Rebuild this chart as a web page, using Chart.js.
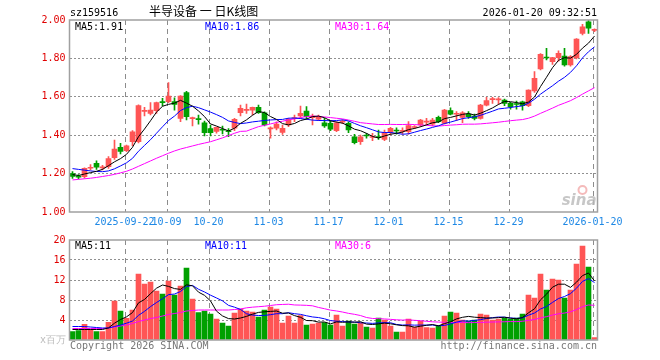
<!DOCTYPE html>
<html>
<head>
<meta charset="utf-8">
<script src="https://cdn.jsdelivr.net/npm/chart.js@4.4.1/dist/chart.umd.min.js"></script>
<style>
body { margin: 0; background: #fff; width: 660px; height: 360px; overflow: hidden; position: relative;
       font-family: "DejaVu Sans Mono", monospace; font-size: 10px; }
canvas { position: absolute; left: 0; }
#priceChart { top: 0; }
#volChart { top: 230px; }
.t { position: absolute; white-space: pre; line-height: 12px; }
</style>
</head>
<body>
<canvas id="priceChart" width="660" height="230"></canvas>
<canvas id="volChart" width="660" height="130"></canvas>

<div class="t" style="left:70px;top:7px;color:#000">sz159516</div>
<div class="t" style="left:149px;top:4px;font-family:'Noto Sans CJK SC',sans-serif;font-size:12px;line-height:14px;color:#000">半导设备 一 日K线图</div>
<div class="t" style="right:63px;top:7px;color:#000">2026-01-20 09:32:51</div>
<div class="t" style="left:75px;top:21px;color:#000">MA5:1.91</div>
<div class="t" style="left:205px;top:21px;color:#0000ff">MA10:1.86</div>
<div class="t" style="left:335px;top:21px;color:#ff00ff">MA30:1.64</div>
<div class="t" style="left:75px;top:240px;color:#000">MA5:11</div>
<div class="t" style="left:205px;top:240px;color:#0000ff">MA10:11</div>
<div class="t" style="left:335px;top:240px;color:#ff00ff">MA30:6</div>
<div class="t" style="left:40px;top:334px;color:#bbb">x百万</div>
<div class="t" style="left:70px;top:340px;color:#777">Copyright 2026 SINA.COM</div>
<div class="t" style="right:63px;top:340px;color:#777">http://finance.sina.com.cn</div>

<script>
// trading days shown on the chart
var dates = [
    '2025-09-09','2025-09-10','2025-09-11','2025-09-12','2025-09-15','2025-09-16','2025-09-17','2025-09-18','2025-09-19',
    '2025-09-22','2025-09-23','2025-09-24','2025-09-25','2025-09-26','2025-09-29','2025-09-30',
    '2025-10-09','2025-10-10','2025-10-13','2025-10-14','2025-10-15','2025-10-16','2025-10-17',
    '2025-10-20','2025-10-21','2025-10-22','2025-10-23','2025-10-24','2025-10-27','2025-10-28','2025-10-29','2025-10-30','2025-10-31',
    '2025-11-03','2025-11-04','2025-11-05','2025-11-06','2025-11-07','2025-11-10','2025-11-11','2025-11-12','2025-11-13','2025-11-14',
    '2025-11-17','2025-11-18','2025-11-19','2025-11-20','2025-11-21','2025-11-24','2025-11-25','2025-11-26','2025-11-27','2025-11-28',
    '2025-12-01','2025-12-02','2025-12-03','2025-12-04','2025-12-05','2025-12-08','2025-12-09','2025-12-10','2025-12-11','2025-12-12',
    '2025-12-15','2025-12-16','2025-12-17','2025-12-18','2025-12-19','2025-12-22','2025-12-23','2025-12-24','2025-12-25','2025-12-26',
    '2025-12-29','2025-12-30','2025-12-31',
    '2026-01-05','2026-01-06','2026-01-07','2026-01-08','2026-01-09','2026-01-12','2026-01-13','2026-01-14','2026-01-15','2026-01-16',
    '2026-01-19','2026-01-20'
];

var tickDates = ['2025-09-22','2025-10-09','2025-10-20','2025-11-03','2025-11-17','2025-12-01','2025-12-15','2025-12-29','2026-01-20'];
var tickText = ['2025-09-22','10-09','10-20','11-03','11-17','12-01','12-15','12-29','2026-01-20'];

var opens = [
    1.200,1.186,1.184,1.228,1.254,1.230,1.236,1.283,1.337,1.320,
    1.366,1.366,1.524,1.514,1.528,1.574,1.575,1.575,1.488,1.622,
    1.486,1.485,1.465,1.434,1.420,1.430,1.422,1.436,1.517,1.529,
    1.531,1.545,1.517,1.433,1.436,1.415,1.453,1.487,1.500,1.526,
    1.491,1.483,1.465,1.462,1.424,1.468,1.462,1.392,1.366,1.400,
    1.388,1.390,1.378,1.415,1.426,1.420,1.418,1.440,1.453,1.468,
    1.458,1.493,1.462,1.528,1.509,1.493,1.510,1.500,1.488,1.557,
    1.585,1.584,1.583,1.566,1.563,1.574,1.554,1.630,1.745,1.806,
    1.783,1.804,1.812,1.766,1.804,1.930,1.991,1.946
];
var highs = [
    1.210,1.195,1.230,1.247,1.266,1.243,1.288,1.375,1.358,1.349,
    1.424,1.558,1.545,1.570,1.572,1.592,1.674,1.595,1.606,1.628,
    1.494,1.505,1.474,1.453,1.442,1.448,1.435,1.488,1.557,1.562,
    1.546,1.557,1.522,1.444,1.470,1.453,1.488,1.505,1.552,1.549,
    1.510,1.505,1.488,1.476,1.470,1.480,1.470,1.404,1.401,1.410,
    1.410,1.427,1.427,1.441,1.439,1.438,1.471,1.450,1.483,1.488,
    1.488,1.500,1.535,1.543,1.523,1.523,1.523,1.510,1.561,1.597,
    1.597,1.596,1.588,1.571,1.578,1.578,1.636,1.731,1.825,1.852,
    1.806,1.840,1.852,1.815,1.903,1.977,2.000,1.954
];
var lows = [
    1.175,1.172,1.176,1.219,1.222,1.219,1.227,1.274,1.302,1.314,
    1.345,1.360,1.500,1.505,1.514,1.552,1.570,1.530,1.470,1.479,
    1.448,1.458,1.396,1.396,1.410,1.407,1.392,1.424,1.500,1.514,
    1.505,1.514,1.448,1.384,1.427,1.404,1.444,1.470,1.488,1.483,
    1.453,1.476,1.441,1.424,1.418,1.460,1.413,1.354,1.352,1.384,
    1.372,1.378,1.372,1.401,1.406,1.405,1.406,1.434,1.445,1.453,
    1.448,1.465,1.458,1.505,1.476,1.465,1.488,1.479,1.483,1.552,
    1.566,1.561,1.554,1.536,1.536,1.531,1.549,1.623,1.740,1.792,
    1.769,1.786,1.760,1.760,1.797,1.922,1.930,1.939
];
var closes = [
    1.185,1.182,1.227,1.233,1.233,1.235,1.278,1.328,1.316,1.345,
    1.418,1.554,1.528,1.531,1.570,1.570,1.604,1.560,1.604,1.497,
    1.490,1.481,1.413,1.413,1.441,1.426,1.418,1.483,1.540,1.533,
    1.545,1.517,1.453,1.438,1.458,1.436,1.483,1.490,1.514,1.497,
    1.500,1.497,1.448,1.432,1.465,1.472,1.427,1.361,1.392,1.396,
    1.392,1.387,1.413,1.436,1.422,1.424,1.450,1.444,1.479,1.472,
    1.479,1.471,1.531,1.510,1.512,1.517,1.497,1.488,1.557,1.580,
    1.588,1.588,1.566,1.549,1.560,1.554,1.635,1.696,1.821,1.802,
    1.804,1.826,1.766,1.809,1.901,1.965,1.957,1.950
];
// volume, x 百万
var volumes = [
    1.67,1.87,3.13,2.13,1.67,1.67,3.53,7.8,5.8,4.33,
    6.0,13.2,11.2,11.6,9.8,9.2,11.8,9.0,10.8,14.4,
    8.2,5.47,5.8,5.2,4.2,3.4,2.8,5.4,6.2,5.8,
    5.6,4.6,6.0,6.6,6.2,3.4,4.8,3.4,4.9,3.0,
    3.2,3.4,3.5,3.0,5.0,2.8,3.8,3.2,3.5,2.6,
    2.4,4.4,4.0,2.8,1.6,1.6,4.2,2.6,3.8,2.5,
    2.4,2.9,4.8,5.6,5.4,4.0,3.8,4.0,5.2,5.0,
    4.0,4.2,4.4,4.2,4.4,5.2,9.0,8.4,13.2,10.0,
    12.2,12.0,8.4,10.0,15.2,18.8,14.6,0.5
];

// moving average values before a full window is on screen
var ma5Head = [1.195, 1.190, 1.198, 1.205];
var ma10Head = [1.226, 1.222, 1.218, 1.214, 1.211, 1.210, 1.214, 1.225, 1.240];
var ma30Head = [1.167, 1.170, 1.173, 1.176, 1.180, 1.185, 1.190, 1.196, 1.204, 1.212,
                1.224, 1.238, 1.252, 1.266, 1.280, 1.293, 1.306, 1.318, 1.328, 1.336,
                1.344, 1.352, 1.359, 1.366, 1.376, 1.386, 1.398, 1.410, 1.420];
var volMa5Head = [2.1, 2.1, 2.1, 2.1];
var volMa10Head = [2.7, 2.7, 2.7, 2.6, 2.5, 2.4, 2.4, 2.7, 3.0];
var volMa30Head = [2.3, 2.3, 2.3, 2.3, 2.3, 2.3, 2.4, 2.6, 2.8, 3.0,
                   3.3, 3.7, 4.0, 4.3, 4.5, 4.8, 5.1, 5.3, 5.5, 5.8,
                   5.9, 6.0, 6.0, 6.0, 6.0, 6.0, 6.0, 6.1, 6.2];

var priceTicks = [1.00, 1.20, 1.40, 1.60, 1.80, 2.00];
var volTicks = [0, 4, 8, 12, 16, 20];

var UP = '#ff5555';
var DOWN = '#00a000';
var GRID = '#8c8c8c';

function movingAverage(values, n, head) {
    return values.map(function (v, i) {
        if (i < n - 1) return head[i];
        var sum = 0;
        for (var k = i - n + 1; k <= i; k++) sum += values[k];
        return sum / n;
    });
}

var candleColor = closes.map(function (c, i) { return c >= opens[i] ? UP : DOWN; });
var tickIdx = tickDates.map(function (d) { return dates.indexOf(d); });

Chart.defaults.font.family = '"DejaVu Sans Mono", monospace';
Chart.defaults.font.size = 10;

// dashed date lines, placed with the chart's own x scale
var dateLinePlugin = {
    id: 'dateLines',
    beforeDatasetsDraw: function (chart) {
        var ctx = chart.ctx, a = chart.chartArea, xs = chart.scales.x;
        ctx.save();
        ctx.fillStyle = GRID;
        tickIdx.forEach(function (i) {
            var gx = Math.round(xs.getPixelForValue(i) - 2);
            for (var yy = Math.round(a.top); yy < a.bottom; yy += 9) {
                ctx.fillRect(gx, yy, 1, Math.min(5, a.bottom - yy));
            }
        });
        ctx.restore();
    }
};

// grey frame round the plot area
var framePlugin = {
    id: 'frame',
    afterDraw: function (chart) {
        var ctx = chart.ctx, a = chart.chartArea;
        ctx.save();
        ctx.strokeStyle = '#a0a0a0';
        ctx.lineWidth = 1.5;
        ctx.strokeRect(a.left, a.top, a.right - a.left, a.bottom - a.top);
        ctx.restore();
    }
};

// faint sina logo in the corner of the price panel
var logoPlugin = {
    id: 'logo',
    beforeDatasetsDraw: function (chart) {
        var ctx = chart.ctx, a = chart.chartArea;
        ctx.save();
        ctx.strokeStyle = 'rgba(235,130,130,0.55)';
        ctx.lineWidth = 2;
        ctx.beginPath();
        ctx.arc(a.right - 15, a.bottom - 22, 4, 0, Math.PI * 2);
        ctx.stroke();
        ctx.fillStyle = 'rgba(185,185,185,0.8)';
        ctx.font = 'italic bold 15px "DejaVu Sans", sans-serif';
        ctx.textAlign = 'right';
        ctx.fillText('sina', a.right - 1, a.bottom - 7);
        ctx.restore();
    }
};

function xAxis(showLabels) {
    return {
        offset: true,
        grid: { display: false, drawTicks: false },
        border: { display: false },
        ticks: {
            display: showLabels,
            autoSkip: false,
            maxRotation: 0,
            padding: 4,
            labelOffset: -2,
            color: '#1e88e5',
            callback: function (val, idx) {
                var k = tickDates.indexOf(dates[idx]);
                return k >= 0 ? tickText[k] : '';
            }
        },
        afterFit: function (axis) { axis.height = showLabels ? 18 : 20; }
    };
}

// value axis: the library draws the dotted lines at each tick
function yAxis(min, max, tickList, fmt) {
    return {
        min: min,
        max: max,
        afterBuildTicks: function (axis) {
            axis.ticks = tickList.map(function (v) { return { value: v }; });
        },
        grid: {
            display: true,
            drawTicks: false,
            lineWidth: 1,
            color: function (ctx) {
                var v = ctx.tick ? ctx.tick.value : null;
                return (v === min || v === max) ? 'rgba(0,0,0,0)' : '#909090';
            }
        },
        border: { display: false, dash: [2, 2] },
        ticks: { padding: 4, color: '#e00000', callback: fmt },
        afterFit: function (axis) { axis.width = 69.5; }
    };
}

function lineSet(label, data, color) {
    return { type: 'line', label: label, data: data, borderColor: color, borderWidth: 1,
             pointRadius: 0, tension: 0, order: 0 };
}

var priceChart = new Chart(document.getElementById('priceChart').getContext('2d'), {
    type: 'bar',
    data: {
        labels: dates,
        datasets: [
            lineSet('MA5', movingAverage(closes, 5, ma5Head), '#000000'),
            lineSet('MA10', movingAverage(closes, 10, ma10Head), '#0000ff'),
            lineSet('MA30', movingAverage(closes, 30, ma30Head), '#ff00ff'),
            {
                label: 'body',
                data: opens.map(function (o, i) { return [o, closes[i]]; }),
                backgroundColor: candleColor,
                barThickness: 5,
                minBarLength: 1,
                grouped: false,
                borderWidth: 0,
                order: 2
            },
            {
                label: 'wick',
                data: lows.map(function (l, i) { return [l, highs[i]]; }),
                backgroundColor: candleColor,
                barThickness: 1,
                grouped: false,
                borderWidth: 0,
                order: 3
            }
        ]
    },
    options: {
        responsive: false,
        animation: false,
        layout: { padding: { top: 20, right: 62.5, left: 0, bottom: 0 } },
        plugins: { legend: { display: false }, tooltip: { enabled: false } },
        scales: {
            x: xAxis(true),
            y: yAxis(1, 2, priceTicks, function (v) { return v.toFixed(2); })
        }
    },
    plugins: [dateLinePlugin, logoPlugin, framePlugin]
});

var volChart = new Chart(document.getElementById('volChart').getContext('2d'), {
    type: 'bar',
    data: {
        labels: dates,
        datasets: [
            lineSet('MA5', movingAverage(volumes, 5, volMa5Head), '#000000'),
            lineSet('MA10', movingAverage(volumes, 10, volMa10Head), '#0000ff'),
            lineSet('MA30', movingAverage(volumes, 30, volMa30Head), '#ff00ff'),
            {
                label: 'volume',
                data: volumes,
                backgroundColor: candleColor,
                barThickness: 5,
                grouped: false,
                borderWidth: 0,
                order: 2
            }
        ]
    },
    options: {
        responsive: false,
        animation: false,
        layout: { padding: { top: 10, right: 62.5, left: 0, bottom: 0 } },
        plugins: { legend: { display: false }, tooltip: { enabled: false } },
        scales: {
            x: xAxis(false),
            y: yAxis(0, 20, volTicks, function (v) { return v === 0 ? '' : String(v); })
        }
    },
    plugins: [dateLinePlugin, framePlugin]
});
</script>
</body>
</html>
